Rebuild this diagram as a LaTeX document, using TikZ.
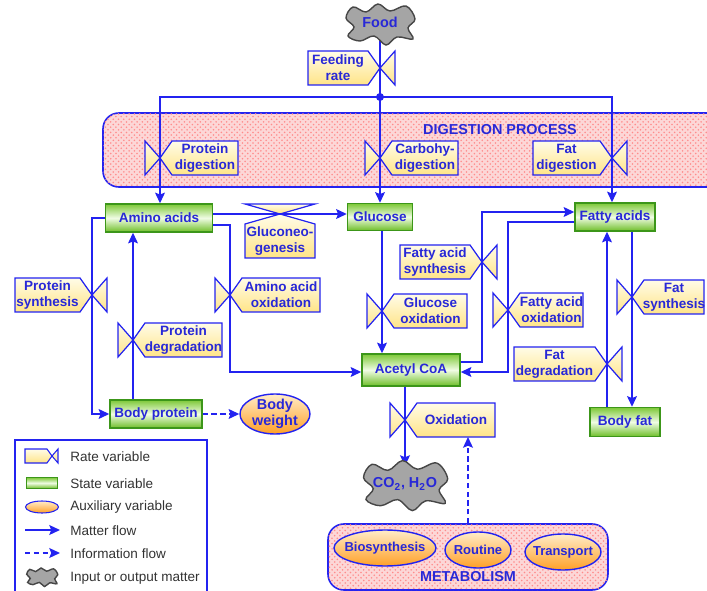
\documentclass[tikz,border=0pt]{standalone}
\usepackage{fontspec}
\setmainfont{Liberation Sans}
\usetikzlibrary{arrows.meta,calc,shapes.geometric,patterns}
\definecolor{vblue}{RGB}{35,35,240}
\definecolor{tblue}{RGB}{40,40,215}
\definecolor{ylA}{RGB}{255,252,232}
\definecolor{ylB}{RGB}{255,228,135}
\definecolor{grA}{RGB}{125,200,55}
\definecolor{grM}{RGB}{240,252,228}
\definecolor{grB}{RGB}{110,190,40}
\definecolor{grD}{RGB}{60,150,25}
\definecolor{orA}{RGB}{255,236,200}
\definecolor{orB}{RGB}{255,160,40}
\definecolor{pinkbg}{RGB}{252,215,215}
\definecolor{legtxt}{RGB}{50,50,50}
\def\px{0.02cm}
\tikzset{
  flow/.style={draw=vblue, line width=1.2pt, -{Stealth[length=6pt,width=5.5pt,inset=1pt]}},
  plain/.style={draw=vblue, line width=1.2pt},
  info/.style={flow, dash pattern=on 3pt off 2pt},
  valve/.style={draw=vblue, line width=0.7pt, top color=ylA, bottom color=ylB},
  vtext/.style={text=tblue, font=\fontsize{7.7}{9}\selectfont\bfseries, align=center, inner sep=0pt},
  state/.style={draw=grD, line width=0.8pt, top color=grA, bottom color=grB, middle color=grM,
    text=tblue, font=\fontsize{7.7}{9}\selectfont\bfseries, inner sep=0pt},
  aux/.style={ellipse, draw=vblue, line width=0.8pt, top color=orA, bottom color=orB, inner sep=0pt},
  procbox/.style={draw=vblue, line width=0.9pt, rounded corners=9pt, fill=pinkbg,
    postaction={pattern=crosshatch dots, pattern color=red!45}},
  cloudshape/.style={draw={rgb,255:red,70;green,70;blue,70}, line width=0.8pt, fill={rgb,255:red,165;green,165;blue,165}},
  legtext/.style={text=legtxt, font=\fontsize{7.7}{9}\selectfont, anchor=west, inner sep=0pt},
  ttl/.style={text=tblue, font=\fontsize{8.2}{9.4}\selectfont\bfseries, inner sep=0pt, align=center},
  auxt/.style={ttl, font=\fontsize{7.4}{9}\selectfont\bfseries}
}
\newcommand\rateR[5]{%
  \coordinate (#1) at (#2,#3);
  \path[valve] (#2,#3) -- ++(-15,-17) -- ++(0,34) -- cycle;
  \path[valve] (#2,#3) -- ++(12,-17) -- ++(#4,0) -- ++(0,34) -- ++(-#4,0) -- cycle;
  \node[vtext] (#1-l) at ($(#2,#3)+({12+#4/2},0)$) {#5};}
\newcommand\rateL[5]{%
  \coordinate (#1) at (#2,#3);
  \path[valve] (#2,#3) -- ++(15,-17) -- ++(0,34) -- cycle;
  \path[valve] (#2,#3) -- ++(-12,-17) -- ++(-#4,0) -- ++(0,34) -- ++(#4,0) -- cycle;
  \node[vtext] (#1-l) at ($(#2,#3)-({12+#4/2},0)$) {#5};}
\newcommand\cloudat[3]{%
  \begin{scope}[shift={(#1,#2)}, scale=#3]
  \path[cloudshape] plot[smooth cycle, tension=0.6] coordinates {
   (-34,-6) (-27,-17) (-14,-12) (-2,-20) (10,-13) (26,-18) (35,-5) (28,4)
   (33,15) (17,13) (6,21) (-6,12) (-20,17) (-32,12) (-26,3)};
  \end{scope}}
\begin{document}
\begin{tikzpicture}[x=0.02cm, y=-0.02cm]
\useasboundingbox (0,0) rectangle (707,591);

% process boxes
\node[procbox, minimum width=620*\px, minimum height=74*\px] (digest) at (413,150) {};
\node[ttl] (digt) at (500,130) {DIGESTION PROCESS};
\node[procbox, minimum width=280*\px, minimum height=66*\px] (metab) at (468,557) {};

% state variables
\node[state, minimum width=107*\px, minimum height=28*\px] (amino) at (159,218) {Amino acids};
\node[state, minimum width=65*\px, minimum height=27*\px] (glucose) at (380,217) {Glucose};
\node[state, minimum width=80*\px, minimum height=28*\px] (fatty) at (615,217) {Fatty acids};
\node[state, minimum width=98*\px, minimum height=32*\px] (acetyl) at (411,370) {Acetyl CoA};
\node[state, minimum width=92*\px, minimum height=28*\px] (bodyprot) at (156,414) {Body protein};
\node[state, minimum width=70*\px, minimum height=29*\px] (bodyfat) at (625,422) {Body fat};

% auxiliary variables
\node[aux, minimum width=70*\px, minimum height=40*\px] (bw) at (275,414) {};
\node[ttl] (bw-t) at (275,414) {Body\\weight};
\node[aux, minimum width=102*\px, minimum height=36*\px] (bios) at (385,548) {};
\node[auxt] (bios-t) at (385,548) {Biosynthesis};
\node[aux, minimum width=66*\px, minimum height=36*\px] (rout) at (478,550) {};
\node[auxt] (rout-t) at (478,550) {Routine};
\node[aux, minimum width=76*\px, minimum height=36*\px] (trans) at (563,552) {};
\node[auxt] (trans-t) at (563,552) {Transport};
\node[ttl] (metat) at (468,577) {METABOLISM};

% rate variables
\rateL{fr}{380}{68}{60}{Feeding\\rate}
\rateR{pd}{160}{158}{66}{Protein\\digestion}
\rateR{cd}{380}{158}{66}{Carbohy-\\digestion}
\rateL{fd}{612}{158}{67}{Fat\\digestion}
\rateL{ps}{92}{295}{65}{Protein\\synthesis}
\rateR{pdg}{133}{340}{77}{Protein\\degradation}
\rateR{aao}{230}{295}{78}{Amino acid\\oxidation}
\rateR{go}{382}{311}{73}{Glucose\\oxidation}
\rateL{fas}{482}{262}{70}{Fatty acid\\synthesis}
\rateR{fao}{508}{310}{63}{Fatty acid\\oxidation}
\rateL{fdg}{607}{364}{81}{Fat\\degradation}
\rateR{fs}{632}{297}{60}{Fat\\synthesis}
\rateR{ox}{405}{420}{78}{Oxidation}
% gluconeogenesis (vertical valve)
\coordinate (gng) at (280,214);
\path[valve] (gng) -- ++(-35,-10) -- ++(70,0) -- cycle;
\path[valve] (gng) -- ++(-35,10) -- ++(0,34) -- ++(70,0) -- ++(0,-34) -- cycle;
\node[vtext] (gng-l) at (280,241) {Gluconeo-\\genesis};

% coordinates
\coordinate (foodbot) at (380,40);
\coordinate (dot) at (380,97);
\coordinate (co2top) at (405,466);
\coordinate (oxbot) at (468,437);

% matter flows
\draw[plain] (foodbot) -- (fr) -- (dot);
\draw[flow] (dot) -- (cd) -- (glucose.north);
\draw[flow] (dot) -| (pd) -- (amino.north -| pd);
\draw[flow] (dot) -| (fd) -- (fatty.north -| fd);
\draw[flow] (amino.east |- gng) -- (gng) -- (glucose.west |- gng);
\draw[flow] (glucose.south -| go) -- (go) -- (acetyl.north -| go);
\draw[flow] ([yshift=-7*\px]amino.east) -| (aao) |- ([yshift=-2*\px]acetyl.west);
\draw[flow] (amino.west) -| (ps) |- (bodyprot.west);
\draw[flow] (bodyprot.north -| pdg) -- (pdg) -- (amino.south -| pdg);
\draw[flow] ([yshift=8*\px]acetyl.east) -| (fas) |- ([yshift=5*\px]fatty.west);
\draw[flow] ([yshift=-5*\px]fatty.west) -| (fao) |- ([yshift=-2*\px]acetyl.east);
\draw[flow] (fatty.south -| fs) -- (fs) -- (bodyfat.north -| fs);
\draw[flow] (bodyfat.north -| fdg) -- (fdg) -- (fatty.south -| fdg);
\draw[flow] (acetyl.south -| ox) -- (ox) -- (co2top);
\fill[vblue] (dot) circle (4);

% information flows
\draw[info] (bodyprot.east) -- (bw.west);
\draw[info] (metab.north) -- (oxbot);

% input / output matter
\cloudat{380}{24}{1}
\node[ttl] (food) at (380,22) {Food};
\cloudat{405}{485}{1.22}
\node[ttl] (co2) at (405,484) {CO\textsubscript{2}, H\textsubscript{2}O};

% legend
\draw[vblue, line width=0.8pt] (15,440) rectangle (207,596);
\path[valve, line width=0.6pt] (52,456) -- (47,449) -- (25,449) -- (25,463) -- (47,463) -- cycle;
\path[valve, line width=0.6pt] (52,456) -- (58,449) -- (58,463) -- cycle;
\node[legtext] (l1) at (70,457) {Rate variable};
\node[state, minimum width=31*\px, minimum height=11*\px, line width=0.6pt] (lgs) at (42,483) {};
\node[legtext] (l2) at (70,484) {State variable};
\node[aux, minimum width=33*\px, minimum height=12*\px, line width=0.6pt] (lga) at (42,507) {};
\node[legtext] (l3) at (70,507) {Auxiliary variable};
\coordinate (lm1) at (25,530); \coordinate (lm2) at (60,530);
\draw[flow] (lm1) -- (lm2);
\node[legtext] (l4) at (70,531) {Matter flow};
\coordinate (li1) at (25,553); \coordinate (li2) at (60,553);
\draw[info] (li1) -- (li2);
\node[legtext] (l5) at (70,554) {Information flow};
\cloudat{42}{577}{0.45}
\node[legtext] (l6) at (70,578) {Input or output matter};
\end{tikzpicture}
\end{document}
